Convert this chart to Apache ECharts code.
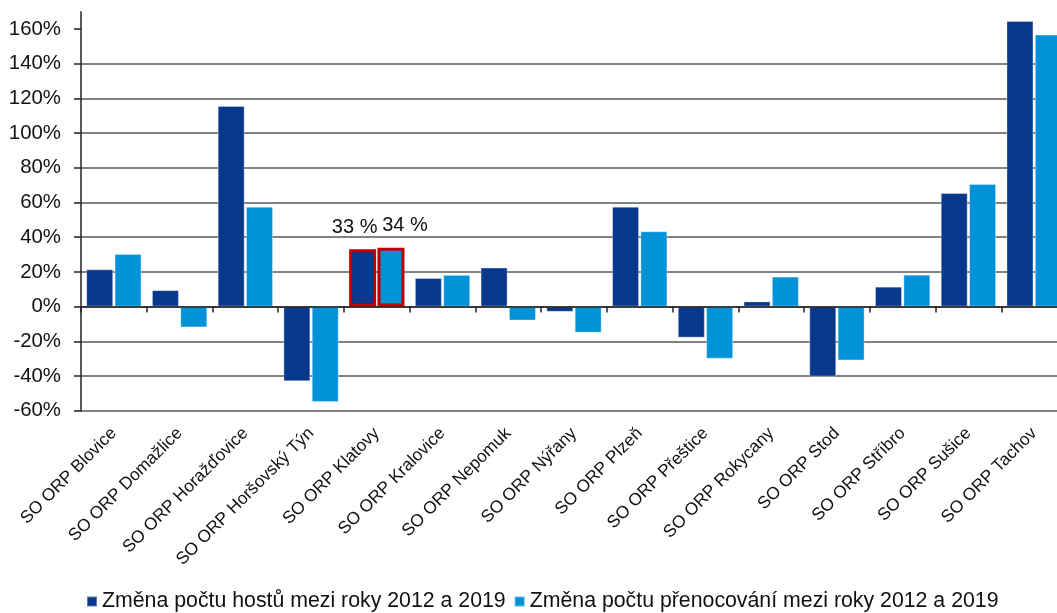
<!DOCTYPE html>
<html>
<head>
<meta charset="utf-8">
<script src="https://cdn.jsdelivr.net/npm/echarts@6/dist/echarts.min.js"></script>
<style>
  html, body { margin: 0; padding: 0; background: #fff; }
  #chart { width: 1057px; height: 613px; }
</style>
</head>
<body>
<div id="chart"></div>
<script>
// kategorie (SO ORP)
var categories = ['SO ORP Blovice', 'SO ORP Domažlice', 'SO ORP Horažďovice', 'SO ORP Horšovský Týn',
    'SO ORP Klatovy', 'SO ORP Kralovice', 'SO ORP Nepomuk', 'SO ORP Nýřany', 'SO ORP Plzeň',
    'SO ORP Přeštice', 'SO ORP Rokycany', 'SO ORP Stod', 'SO ORP Stříbro', 'SO ORP Sušice', 'SO ORP Tachov'];

var seriesNames = ['Změna počtu hostů mezi roky 2012 a 2019', 'Změna počtu přenocování mezi roky 2012 a 2019'];

// hodnoty v %
var hoste = [21.5, 9.5, 115.7, -43, 33, 16.5, 22.5, -3, 57.6, -17.9, 3, -40.3, 11.5, 65.5, 164.7];
var prenocovani = [30.4, -12, 57.6, -55, 34, 18.3, -8, -15, 43.4, -30, 17.3, -31, 18.4, 70.7, 156.8];

// popisky osy y
var yTicks = [-60, -40, -20, 0, 20, 40, 60, 80, 100, 120, 140, 160];

var highlightIndex = 4; // Klatovy
var fontName = 'Liberation Sans, Arial, sans-serif';

function buildData(values, labelOffset) {
    return values.map(function (v, i) {
        if (i !== highlightIndex) return v;
        return {
            value: v,
            itemStyle: { borderColor: '#c00000', borderWidth: 3 },
            label: {
                show: true,
                position: 'top',
                distance: 12,
                offset: labelOffset,
                formatter: function (p) { return Math.round(p.value) + ' %'; },
                fontSize: 20,
                fontFamily: fontName,
                color: '#111'
            }
        };
    });
}

var dom = document.getElementById('chart');
var myChart = echarts.init(dom);

var option = {
    animation: false,
    textStyle: { fontFamily: fontName },
    // plocha grafu pokracuje kousek za pravy okraj obrazku
    grid: { left: 81, width: 986, top: 11.7, bottom: 202.3, containLabel: false, outerBoundsMode: 'none' },
    legend: {
        left: 86,
        top: 591,
        padding: 0,
        itemWidth: 10,
        itemHeight: 10,
        itemGap: 8,
        icon: 'rect',
        textStyle: { fontSize: 21.3, color: '#111', fontFamily: fontName },
        data: seriesNames
    },
    xAxis: [
        {
            type: 'category',
            data: categories,
            axisLine: { onZero: true, lineStyle: { color: '#222', width: 1.5 } },
            axisTick: { show: true, interval: 0, length: 6, lineStyle: { color: '#222', width: 1.5 } },
            axisLabel: { show: false },
            z: 5
        },
        {
            type: 'category',
            data: categories,
            position: 'bottom',
            axisLine: { show: false, onZero: false },
            axisTick: { show: false },
            axisLabel: {
                interval: 0,
                rotate: 45,
                margin: 20,
                fontSize: 17.3,
                color: '#111',
                fontFamily: fontName
            }
        }
    ],
    yAxis: {
        type: 'value',
        min: -60,
        max: 170,
        interval: 20,
        axisLine: { show: true, lineStyle: { color: '#222', width: 1.5 } },
        axisTick: { show: true, length: 7, customValues: yTicks, lineStyle: { color: '#222', width: 1.5 } },
        axisLabel: {
            customValues: yTicks,
            formatter: '{value}%',
            margin: 20,
            fontSize: 20.4,
            color: '#111',
            fontFamily: fontName
        },
        splitLine: { show: true, showMaxLine: false, lineStyle: { color: '#828282', width: 1.8 } }
    },
    series: [
        {
            name: seriesNames[0],
            type: 'bar',
            xAxisIndex: 0,
            barWidth: 27,
            barGap: '5%',
            itemStyle: { color: '#08388c', borderColor: 'rgba(255,255,255,0.35)', borderWidth: 1 },
            data: buildData(hoste, [-8, 0])
        },
        {
            name: seriesNames[1],
            type: 'bar',
            xAxisIndex: 0,
            barWidth: 27,
            barGap: '5%',
            itemStyle: { color: '#0292d8', borderColor: 'rgba(255,255,255,0.35)', borderWidth: 1 },
            data: buildData(prenocovani, [14, 0])
        }
    ]
};

myChart.setOption(option);
</script>
</body>
</html>
